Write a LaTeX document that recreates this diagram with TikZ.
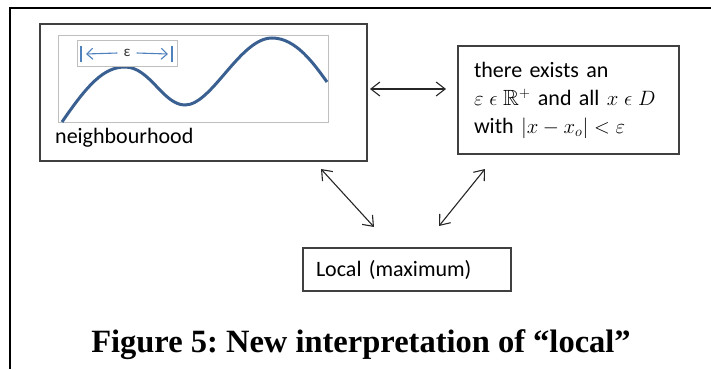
\documentclass[tikz,border=0pt]{standalone}
\usepackage{amsmath,amssymb}
\usepackage{fontspec}
\setmainfont{Liberation Serif}
\newfontfamily\calibri{Carlito}
\usetikzlibrary{arrows.meta,positioning}
\definecolor{wave}{RGB}{58,96,146}
\definecolor{epsblue}{RGB}{79,129,189}
\definecolor{boxline}{RGB}{64,64,64}
\frenchspacing

\begin{document}
\begin{tikzpicture}[
  x=1pt, y=-1pt,
  every node/.style={font=\calibri\fontsize{22}{28}\selectfont},
  panel/.style={draw=boxline, line width=1.3pt, inner sep=0pt},
  plotframe/.style={draw=black!25, line width=1pt},
  link/.style={{Straight Barb[length=9pt,width=14pt]}-{Straight Barb[length=9pt,width=14pt]},
    line width=1.1pt, black!85},
  epsarrow/.style={-{Straight Barb[length=6pt,width=11pt]}, epsblue, line width=1.1pt}
]
\useasboundingbox (0,0) rectangle (711,369);
% Page frame (only top and left visible).
\draw[line width=2pt] (10,369) -- (10,8) -- (711,8);

% The three boxes.
\node[panel, minimum width=327pt, minimum height=137pt] (nbhd) at (203.5,92.5) {};
\node[panel, minimum width=221pt, minimum height=108pt, text width=189pt,
  align=left] (cond) at (568.5,100)
  {there exists an\\
   \(\varepsilon\mathrel{\epsilon}\mathbb{R}^{+}\) and all \(x\mathrel{\epsilon}D\)\\
   with \(|x-x_o|<\varepsilon\)};
\node[panel, minimum width=208pt, minimum height=43pt, text width=182pt,
  align=left] (local) at (407,269.5) {Local (maximum)};

% Small sketch of a neighbourhood.
\draw[plotframe] (58,36) rectangle (328,122);
\draw[wave, line width=3pt]
  (62,122) .. controls (88,84) and (104,67) .. (125,67)
  .. controls (150,67) and (163,105) .. (185,105)
  .. controls (212,105) and (240,38) .. (272,38)
  .. controls (296,38) and (314,64) .. (327,82);
\draw[plotframe, fill=white] (77,41) rectangle (177,66);
\draw[epsblue, line width=1.1pt] (81,46) -- (81,62) (172,46) -- (172,62);
\node[font=\calibri\fontsize{15}{15}\selectfont, text=black!80, inner sep=0pt]
  (eps) at (127,53) {ε};
\coordinate (el) at (86,54);
\coordinate (er) at (168,54);
\draw[epsarrow] (eps.west) ++(-6pt,0) -- (el);
\draw[epsarrow] (eps.east) ++(6pt,0) -- (er);
\node[anchor=base west, inner sep=0pt] (nlabel) at (55,143) {neighbourhood};

% Connectors.
\coordinate (h1) at (370,89);
\coordinate (h2) at (446,89);
\draw[link] (h1) -- (h2);
\coordinate (d1) at (321,169);
\coordinate (d2) at (374,227);
\draw[link] (d1) -- (d2);
\coordinate (d3) at (485,169);
\coordinate (d4) at (439,226);
\draw[link] (d3) -- (d4);

% Caption.
\node[font=\bfseries\fontsize{32.5}{32.5}\selectfont, anchor=base, inner sep=0pt]
  (caption) at (361,352) {Figure 5: New interpretation of “local”};
\end{tikzpicture}
\end{document}
